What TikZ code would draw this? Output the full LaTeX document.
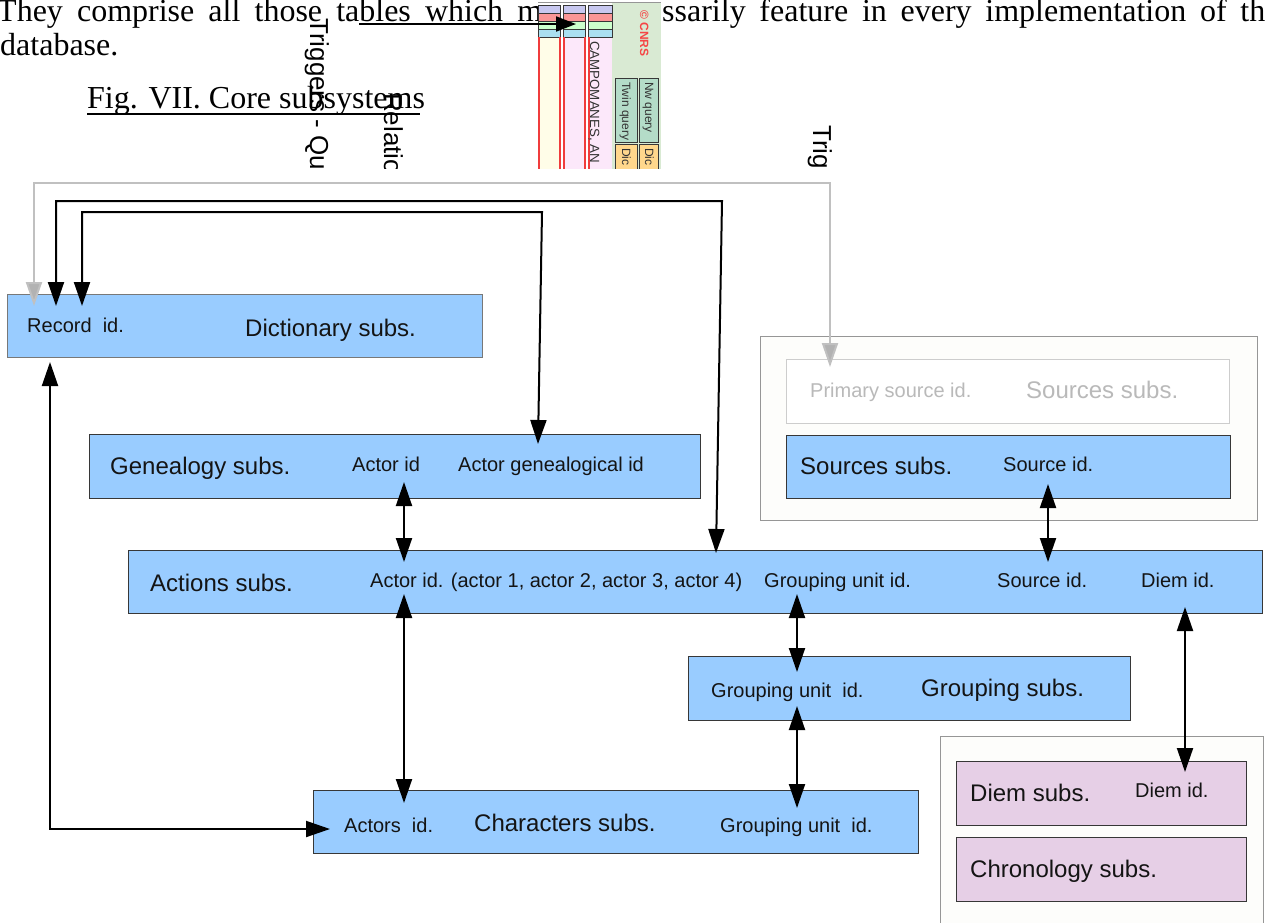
\documentclass[tikz,border=0pt]{standalone}
\usepackage{fontspec}
\setmainfont{Liberation Serif}
\setsansfont{Liberation Sans}
\usetikzlibrary{arrows.meta}
\definecolor{boxblue}{RGB}{153,204,255}
\definecolor{boxpink}{RGB}{230,207,230}
\definecolor{edgegray}{RGB}{55,55,55}
\definecolor{dictedge}{RGB}{120,120,120}
\definecolor{lightline}{RGB}{192,192,192}
\definecolor{tipgray}{RGB}{178,178,178}
\definecolor{outerline}{RGB}{150,150,150}
\definecolor{outerfill}{RGB}{253,253,251}
\definecolor{faintline}{RGB}{205,205,205}
\definecolor{fainttext}{RGB}{185,185,185}
\definecolor{fragyellow}{RGB}{255,253,232}
\definecolor{fragpink}{RGB}{252,232,250}
\definecolor{fragpurple}{RGB}{200,200,240}
\definecolor{fragred}{RGB}{250,150,150}
\definecolor{fraggreen}{RGB}{204,255,204}
\definecolor{fragblue}{RGB}{170,223,240}
\definecolor{fragpanel}{RGB}{217,234,211}
\definecolor{fragteal}{RGB}{180,220,200}
\definecolor{fragorange}{RGB}{255,215,140}
\definecolor{fragredline}{RGB}{240,60,60}
\definecolor{cnrsred}{RGB}{245,70,70}
\begin{document}
\begin{tikzpicture}[x=1pt,y=-1pt,
  subsys/.style={draw=edgegray, line width=1pt, fill=boxblue, anchor=north west, inner sep=0pt, rectangle},
  pinkbox/.style={subsys, fill=boxpink},
  outerbox/.style={draw=outerline, line width=1pt, fill=outerfill, anchor=north west, inner sep=0pt, rectangle},
  lbl/.style={anchor=base west, inner sep=0pt, font=\sffamily\fontsize{20}{24}\selectfont, text=black!92},
  ttl/.style={anchor=base west, inner sep=0pt, font=\sffamily\fontsize{24}{28}\selectfont, text=black!92},
  serif/.style={anchor=base west, inner sep=0pt, font=\rmfamily\fontsize{32}{36}\selectfont},
  vtext/.style={rotate=-90, anchor=base west, inner sep=0pt, font=\sffamily\fontsize{26}{28}\selectfont},
  fragtext/.style={rotate=-90, anchor=base west, inner sep=0pt, font=\sffamily\fontsize{12}{14}\selectfont, text=black!80},
  link/.style={line width=2pt, draw=black, {Triangle[length=24pt,width=16pt]}-{Triangle[length=24pt,width=16pt]}},
  glink/.style={line width=2pt, draw=lightline, {Triangle[length=24pt,width=16pt,fill=tipgray]}-{Triangle[length=24pt,width=16pt,fill=tipgray]}}
]
\useasboundingbox[fill=white] (0,0) rectangle (1265,922);

% ---------- top: page text and overlapping fragment ----------
\node[serif] (line1a) at (-3,21) {\makebox[545pt][s]{They comprise all those tables which m}};
\node[serif] (line1b) at (662,21) {\makebox[603pt][s]{ssarily feature in every implementation of th}};
\node[serif] (line2) at (0,55) {database.};
\node[serif] (figcap) at (87,108) {Fig. VII. Core subsystems};
\draw[line width=1.6pt] (figcap.base west) ++(0,6) -- ++(333,0);

\begin{scope}
\clip (0,0) rectangle (1265,168);
% fragment of a screenshot
\fill[fragpanel] (612,2) rectangle (661,170);
\draw[outerline, line width=0.8pt] (538,2) -- (661,2);
\foreach \x/\w/\c in {538/22/fragyellow, 563/22/fragpink, 588/24/fragpink}{
  \fill[\c] (\x,5) rectangle (\x+\w,170);
  \fill[fragpurple] (\x,5) rectangle (\x+\w,13);
  \fill[fragred] (\x,13) rectangle (\x+\w,21);
  \fill[fraggreen] (\x,21) rectangle (\x+\w,29);
  \fill[fragblue] (\x,29) rectangle (\x+\w,37);
  \draw[edgegray, line width=0.8pt] (\x,5) rectangle (\x+\w,37);
  \draw[edgegray, line width=0.6pt] (\x,13) -- (\x+\w,13) (\x,21) -- (\x+\w,21) (\x,29) -- (\x+\w,29);
  \draw[fragredline, line width=1.3pt] (\x+1,37) -- (\x+1,170);
}
\draw[fragredline, line width=1.3pt] (560,37) -- (560,170) (585,37) -- (585,170);
\node[fragtext, font=\sffamily\fontsize{13.3}{14}\selectfont] (campo) at (590,41) {CAMPOMANES, AN};
\node[fragtext, text=cnrsred, font=\sffamily\bfseries\fontsize{12}{14}\selectfont] (cnrs) at (640,10) {© CNRS};
\draw[edgegray, line width=0.9pt, fill=fragteal] (615,78) rectangle (637,142);
\draw[edgegray, line width=0.9pt, fill=fragteal] (639,78) rectangle (658,142);
\node[fragtext] (twin) at (622,82) {Twin query};
\node[fragtext] (nw) at (645,82) {Nw query};
\draw[edgegray, line width=0.9pt, fill=fragorange] (615,144) rectangle (637,175);
\draw[edgegray, line width=0.9pt, fill=fragorange] (639,144) rectangle (658,175);
\node[fragtext] (dic1) at (622,148) {Dic};
\node[fragtext] (dic2) at (645,148) {Dic};
% arrow across the text line
\coordinate (ulA) at (359,24);
\coordinate (ulB) at (576,24);
\draw[line width=2pt, -{Triangle[length=20pt,width=15pt]}] (ulA) -- (ulB);
% rotated labels
\node[vtext] (trigq) at (310,18) {Triggers - Qu};
\node[vtext] (relat) at (384,93) {Relatio};
\node[vtext] (trig) at (813,125) {Trig};
\end{scope}

% ---------- diagram ----------
% outer frames
\node[outerbox, minimum width=497pt, minimum height=184pt] (srcouter) at (760,336) {};
\node[outerbox, minimum width=323pt, minimum height=200pt] (diemouter) at (940,736) {};

% boxes
\node[subsys, draw=dictedge, minimum width=475pt, minimum height=63pt] (dict) at (7,294) {};
\node[subsys, minimum width=611pt, minimum height=64pt] (gen) at (89,434) {};
\node[subsys, minimum width=1134pt, minimum height=63pt] (act) at (128,550) {};
\node[subsys, minimum width=442pt, minimum height=64pt] (grp) at (688,656) {};
\node[subsys, minimum width=605pt, minimum height=63pt] (chr) at (313,790) {};
\node[subsys, draw=faintline, fill=white, minimum width=443pt, minimum height=64pt] (prim) at (786,359) {};
\node[subsys, minimum width=444pt, minimum height=63pt] (src) at (786,435) {};
\node[pinkbox, minimum width=290pt, minimum height=64pt] (diem) at (956,761) {};
\node[pinkbox, minimum width=290pt, minimum height=64pt] (chrono) at (956,837) {};

% labels
\node[lbl] (recid) at (27,332) {Record\ \ id.};
\node[ttl] (dictt) at (245,336) {Dictionary subs.};
\node[ttl] (gent) at (110,474) {Genealogy subs.};
\node[lbl] (genactor) at (352,471) {Actor id};
\node[lbl] (gengen) at (458,471) {Actor genealogical id};
\node[ttl] (actt) at (150,591) {Actions subs.};
\node[lbl] (actactor) at (370,587) {Actor id. (actor 1, actor 2, actor 3, actor 4)};
\node[lbl] (actgrp) at (764,587) {Grouping unit id.};
\node[lbl] (actsrc) at (997,587) {Source id.};
\node[lbl] (actdiem) at (1141,587) {Diem id.};
\node[lbl] (grpid) at (711,697) {Grouping unit\ \ id.};
\node[ttl] (grpt) at (921,696) {Grouping subs.};
\node[lbl] (chractor) at (344,832) {Actors\ \ id.};
\node[ttl] (chrt) at (474,831) {Characters subs.};
\node[lbl] (chrgrp) at (720,832) {Grouping unit\ \ id.};
\node[lbl, text=fainttext] (primid) at (810,397) {Primary source id.};
\node[ttl, text=fainttext] (primt) at (1026,398) {Sources subs.};
\node[ttl] (srct) at (800,474) {Sources subs.};
\node[lbl] (srcid) at (1003,471) {Source id.};
\node[ttl] (diemt) at (970,801) {Diem subs.};
\node[lbl] (diemid) at (1135,797) {Diem id.};
\node[ttl] (chronot) at (970,877) {Chronology subs.};

% connector end points
\coordinate (recG) at (34,306);
\coordinate (recB1) at (56,306);
\coordinate (recB2) at (82,306);
\coordinate (recBot) at (50,362);
\coordinate (primTop) at (830,367);
\coordinate (actTop) at (716,553);
\coordinate (genTop) at (538,444);
\coordinate (chrLeft) at (330,829);
\coordinate (genA) at (404,482);
\coordinate (actA1) at (404,562);
\coordinate (actA2) at (404,594);
\coordinate (chrA) at (404,803);
\coordinate (actG) at (797,594);
\coordinate (grpG1) at (797,672);
\coordinate (grpG2) at (797,706);
\coordinate (chrG) at (797,808);
\coordinate (srcS) at (1048,484);
\coordinate (actS) at (1048,562);
\coordinate (actD) at (1185,607);
\coordinate (diemD) at (1185,772);

% connectors
\draw[glink] (recG) -- (34,183) -- (830,183) -- (primTop);
\draw[link] (recB1) -- (56,201) -- (722,201) -- (actTop);
\draw[link] (recB2) -- (82,212) -- (542,212) -- (genTop);
\draw[link] (recBot) -- (50,829) -- (chrLeft);
\draw[link] (genA) -- (actA1);
\draw[link] (actA2) -- (chrA);
\draw[link] (actG) -- (grpG1);
\draw[link] (grpG2) -- (chrG);
\draw[link] (srcS) -- (actS);
\draw[link] (actD) -- (diemD);
\end{tikzpicture}
\end{document}
